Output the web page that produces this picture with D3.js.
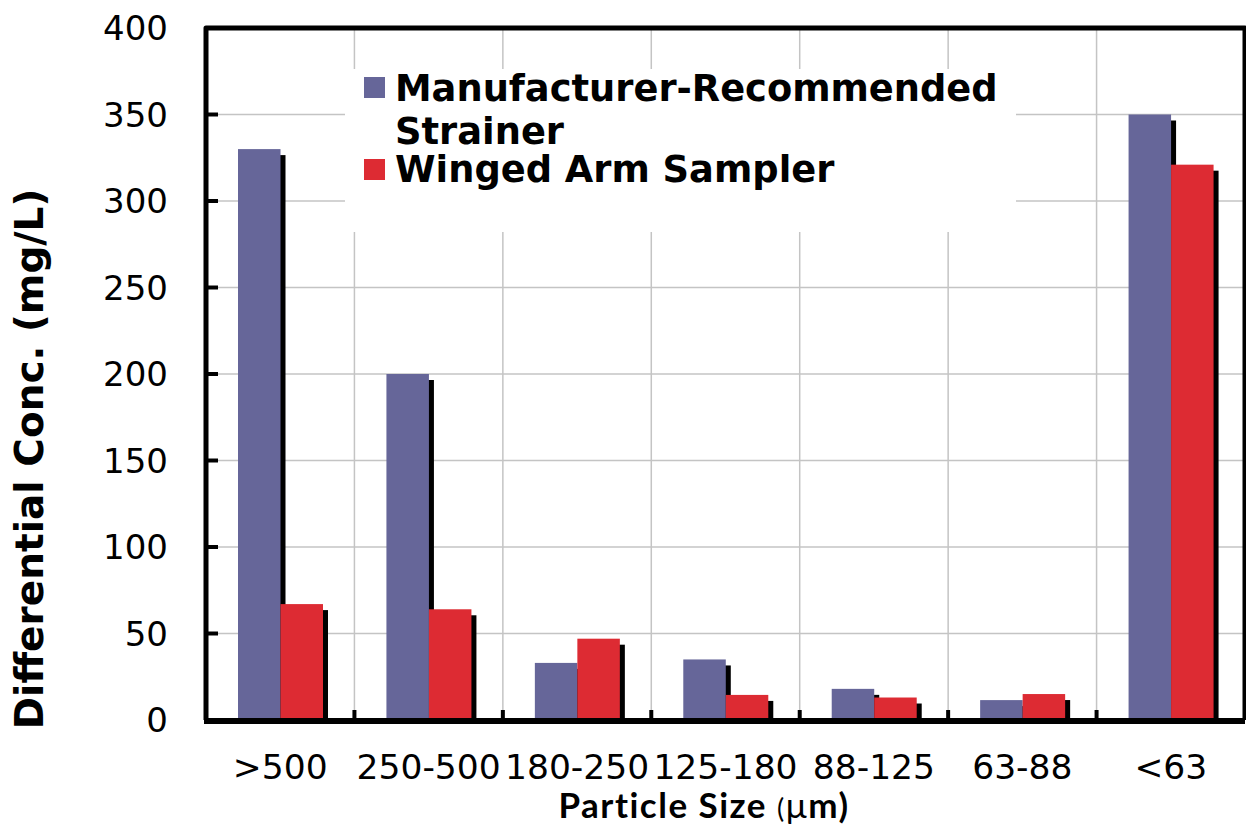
<!DOCTYPE html>
<html>
<head>
<meta charset="utf-8">
<script src="https://cdnjs.cloudflare.com/ajax/libs/d3/7.8.5/d3.min.js"></script>
<style>
  body { margin: 0; background: #fff; }
  svg { display: block; }
</style>
</head>
<body>
<svg width="1246" height="831"></svg>
<script>
var categories = ['>500', '250-500', '180-250', '125-180', '88-125', '63-88', '<63'];
var seriesNames = ['Manufacturer-Recommended Strainer', 'Winged Arm Sampler'];
var strainer = [330, 200, 33, 35, 18, 11.5, 350];
var winged = [67, 64, 47, 14.5, 13, 15, 321];
var yTicks = [0, 50, 100, 150, 200, 250, 300, 350, 400];
var colors = ['#666699', '#dd2b33'];

var svg = d3.select('svg');
var plotL = 206, plotR = 1245, plotT = 28, plotB = 720;

var data = categories.map(function(c, i) {
  return { cat: c, values: [strainer[i], winged[i]] };
});

var x = d3.scaleBand().domain(categories).range([plotL, plotR]).padding(0);
var x1 = d3.scaleBand().domain([0, 1]).range([32, 117]);
var y = d3.scaleLinear().domain([0, 400]).range([plotB, plotT]);

// grid
svg.append('g').selectAll('line')
  .data(yTicks.filter(function(t) { return t > 0 && t < 400; }))
  .enter().append('line')
  .attr('x1', plotL).attr('x2', plotR)
  .attr('y1', function(d) { return y(d); })
  .attr('y2', function(d) { return y(d); })
  .attr('stroke', '#c4c4c4').attr('stroke-width', 1.5);

svg.append('g').selectAll('line')
  .data(categories.slice(1))
  .enter().append('line')
  .attr('x1', function(d) { return x(d); })
  .attr('x2', function(d) { return x(d); })
  .attr('y1', plotT).attr('y2', plotB)
  .attr('stroke', '#c4c4c4').attr('stroke-width', 1.5);

// legend background hides grid
svg.append('rect')
  .attr('x', 345).attr('y', 69).attr('width', 671).attr('height', 163)
  .attr('fill', '#fff');

// bars: shadows first
var groups = svg.append('g').selectAll('g')
  .data(data).enter().append('g')
  .attr('transform', function(d) { return 'translate(' + x(d.cat) + ',0)'; });

groups.selectAll('rect.shadow')
  .data(function(d) { return d.values; })
  .enter().append('rect')
  .attr('class', 'shadow')
  .attr('x', function(d, i) { return x1(i) + 5; })
  .attr('y', function(d) { return y(d) + 6; })
  .attr('width', x1.bandwidth())
  .attr('height', function(d) { return Math.max(0, plotB - y(d) - 6); })
  .attr('fill', '#000');

groups.selectAll('rect.bar')
  .data(function(d) { return d.values; })
  .enter().append('rect')
  .attr('class', 'bar')
  .attr('x', function(d, i) { return x1(i); })
  .attr('y', function(d) { return y(d); })
  .attr('width', x1.bandwidth())
  .attr('height', function(d) { return plotB - y(d); })
  .attr('fill', function(d, i) { return colors[i]; });

// frame
svg.append('path')
  .attr('d', 'M' + plotL + ',' + plotB + 'V' + plotT + 'H' + plotR + 'V' + plotB)
  .attr('fill', 'none').attr('stroke', '#000').attr('stroke-width', 5)
  .attr('stroke-linejoin', 'round');

// y axis ticks (inside)
svg.append('g').selectAll('line')
  .data(yTicks.slice(1, -1))
  .enter().append('line')
  .attr('x1', plotL).attr('x2', plotL + 12)
  .attr('y1', function(d) { return y(d); })
  .attr('y2', function(d) { return y(d); })
  .attr('stroke', '#000').attr('stroke-width', 4);

// x axis line and ticks
svg.append('line')
  .attr('x1', plotL - 2).attr('x2', plotR)
  .attr('y1', plotB + 1).attr('y2', plotB + 1)
  .attr('stroke', '#000').attr('stroke-width', 6);

svg.append('g').selectAll('line')
  .data(categories.slice(1))
  .enter().append('line')
  .attr('x1', function(d) { return x(d); })
  .attr('x2', function(d) { return x(d); })
  .attr('y1', plotB - 10).attr('y2', plotB)
  .attr('stroke', '#000').attr('stroke-width', 4);

// tick labels
svg.append('g').selectAll('text')
  .data(yTicks).enter().append('text')
  .attr('x', 168)
  .attr('y', function(d) { return y(d) + 12; })
  .attr('text-anchor', 'end')
  .style('font-family', 'DejaVu Sans')
  .style('font-size', '34px')
  .text(function(d) { return d; });

svg.append('g').selectAll('text')
  .data(categories).enter().append('text')
  .attr('x', function(d) { return x(d) + x.bandwidth() / 2; })
  .attr('y', 779)
  .attr('text-anchor', 'middle')
  .style('font-family', 'DejaVu Sans')
  .style('font-size', '34.5px')
  .text(function(d) { return d; });

// axis titles
var xt = svg.append('text')
  .attr('x', 704).attr('y', 818)
  .attr('text-anchor', 'middle')
  .style('font-family', 'Lato')
  .style('font-size', '35px')
  .style('letter-spacing', '1.5px')
  .style('font-weight', 'bold');
xt.append('tspan').text('Particle Size ');
xt.append('tspan').style('font-weight', 'normal').style('font-size', '27px').text('(');
xt.append('tspan').style('font-weight', 'normal').text('\u03bc');
xt.append('tspan').text('m)');

svg.append('text')
  .attr('transform', 'translate(43,459) rotate(-90)')
  .attr('text-anchor', 'middle')
  .style('font-family', 'DejaVu Sans')
  .style('font-size', '39px')
  .style('font-weight', 'bold')
  .text('Differential Conc. (mg/L)');

// legend
var legend = svg.append('g');
legend.selectAll('rect')
  .data(seriesNames).enter().append('rect')
  .attr('x', 364)
  .attr('y', function(d, i) { return i === 0 ? 77 : 159; })
  .attr('width', 21).attr('height', 21)
  .attr('fill', function(d, i) { return colors[i]; });

var legendLines = [['Manufacturer-Recommended', 101], ['Strainer', 144], ['Winged Arm Sampler', 182]];
legend.selectAll('text')
  .data(legendLines).enter().append('text')
  .attr('x', 395)
  .attr('y', function(d) { return d[1]; })
  .style('font-family', 'DejaVu Sans')
  .style('font-size', '36.8px')
  .style('font-weight', 'bold')
  .text(function(d) { return d[0]; });
</script>
</body>
</html>
